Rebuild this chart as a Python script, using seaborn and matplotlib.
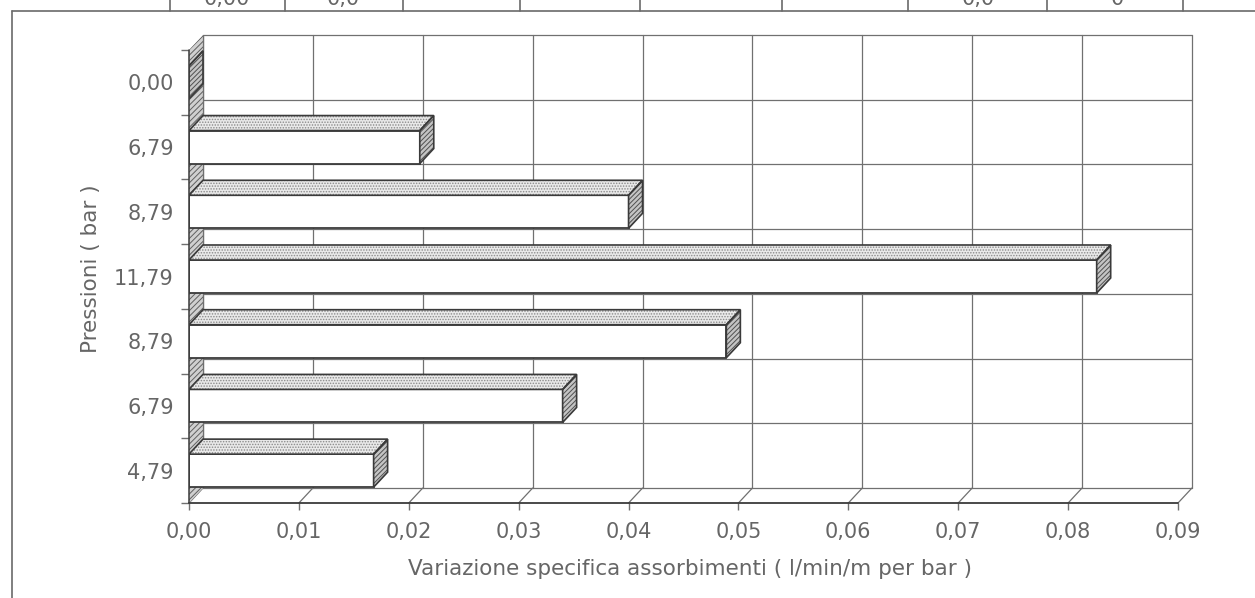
import numpy as np
import pandas as pd
import seaborn as sns
import matplotlib.pyplot as plt
from matplotlib.patches import Polygon
from matplotlib.lines import Line2D
from matplotlib.ticker import FixedLocator

# ---- data -------------------------------------------------------------
pressure_labels = ["0,00", "6,79", "8,79", "11,79", "8,79", "6,79", "4,79"]
variation = [0.0, 0.021, 0.040, 0.0826, 0.0489, 0.034, 0.0168]
x_ticks = [0.00, 0.01, 0.02, 0.03, 0.04, 0.05, 0.06, 0.07, 0.08, 0.09]
x_tick_labels = ["0,00", "0,01", "0,02", "0,03", "0,04", "0,05",
                 "0,06", "0,07", "0,08", "0,09"]
header_cells = ["0,00", "0,0", "0,0", "0"]

# ---- style ------------------------------------------------------------
sns.set_theme(style="white")
plt.rcParams["font.family"] = ["DejaVu Sans"]
plt.rcParams["hatch.linewidth"] = 0.7

INK = "#3a3a3a"
GRID = "#707070"
TXT = "#666666"

W, H = 1255, 598
fig = plt.figure(figsize=(W / 100, H / 100), dpi=100)
fig.patch.set_facecolor("white")
ax = fig.add_axes([189 / W, (H - 503) / H, (1192 - 189) / W, (503 - 35) / H])

XMAX = x_ticks[-1]
DX = XMAX * 14 / 989          # depth of the pseudo-3D box along x
DY = 0.232                    # depth along the category axis
n = len(pressure_labels)
pos = np.arange(n)

df = pd.DataFrame({"pos": pos, "val": variation})
sns.barplot(data=df, x="val", y="pos", orient="h", native_scale=True,
            width=0.51, color="white", saturation=1, edgecolor=INK,
            linewidth=1.3, errorbar=None, ax=ax, zorder=4)

ax.set_xlim(0, XMAX + DX)
ax.set_ylim(n - 0.5, -0.5 - DY)
for s in ax.spines.values():
    s.set_visible(False)

# ---- back wall, floor and left wall -----------------------------------
ybot, ytop = n - 0.5, -0.5
for xv in x_ticks:
    ax.plot([xv + DX, xv + DX], [ybot - DY, ytop - DY], color=GRID, lw=0.9,
            zorder=1, clip_on=False)
    ax.plot([xv, xv + DX], [ybot, ybot - DY], color=GRID, lw=0.9,
            zorder=1, clip_on=False)
for b in np.arange(-0.5, n, 1.0):
    ax.plot([DX, XMAX + DX], [b - DY, b - DY], color=GRID, lw=0.9,
            zorder=1, clip_on=False)
ax.plot([0, XMAX], [ybot, ybot], color=INK, lw=1.3, zorder=5, clip_on=False)

left_wall = Polygon([(0, ybot), (DX, ybot - DY), (DX, ytop - DY), (0, ytop)],
                    closed=True, facecolor="#d0d0d0", edgecolor="#606060",
                    hatch="//////", lw=0, zorder=2)
ax.add_patch(left_wall)
ax.plot([0, 0], [ytop, ybot], color=INK, lw=1.1, zorder=5, clip_on=False)
ax.plot([DX, DX], [ytop - DY, ybot - DY], color=GRID, lw=0.9, zorder=2)

# ---- top and end faces of every bar -----------------------------------
for bar in list(ax.patches):
    if bar is left_wall:
        continue
    x0, y0 = bar.get_x(), bar.get_y()
    w, h = bar.get_width(), bar.get_height()
    yt, yb = y0, y0 + h
    top = [(x0, yt), (x0 + w, yt), (x0 + w + DX, yt - DY), (x0 + DX, yt - DY)]
    end = [(x0 + w, yt), (x0 + w, yb), (x0 + w + DX, yb - DY),
           (x0 + w + DX, yt - DY)]
    ax.add_patch(Polygon(top, closed=True, facecolor="#e9e9e9",
                         edgecolor="#8a8a8a", hatch="......", lw=0, zorder=4))
    ax.add_patch(Polygon(end, closed=True, facecolor="#c4c4c4",
                         edgecolor="#505050", hatch="///////", lw=0, zorder=4))
    for poly in (top, end):
        ax.add_patch(Polygon(poly, closed=True, fill=False, edgecolor=INK,
                             lw=1.2, zorder=4.5))

# ---- ticks and labels --------------------------------------------------
ax.set_xticks(x_ticks, x_tick_labels)
ax.tick_params(axis="x", length=5, width=1, color=GRID, direction="out",
               pad=9, labelsize=15, labelcolor=TXT, bottom=True)
ax.set_yticks(pos, pressure_labels)
ax.yaxis.set_minor_locator(FixedLocator(np.arange(-0.5, n, 1.0)))
ax.tick_params(axis="y", which="major", length=0, pad=11, labelsize=15,
               labelcolor=TXT, left=True)
ax.tick_params(axis="y", which="minor", length=6, width=1, color=GRID,
               direction="out", left=True)

ax.set_xlabel("Variazione specifica assorbimenti ( l/min/m per bar )",
              fontsize=15.5, color=TXT, labelpad=12)
ax.set_ylabel("Pressioni ( bar )", fontsize=15.5, color=TXT, labelpad=9)

# ---- frame and the strip of table above it ----------------------------
frame_kw = dict(transform=fig.transFigure, color="#6a6a6a", lw=1.2)
fig.add_artist(Line2D([12 / W, 1], [1 - 11 / H] * 2, **frame_kw))
fig.add_artist(Line2D([12 / W] * 2, [0, 1 - 11 / H], **frame_kw))
for xc in [170, 285, 403, 520, 640, 782, 908, 1047, 1183]:
    fig.add_artist(Line2D([xc / W] * 2, [1 - 11 / H, 1], **frame_kw))
for xc, txt in zip([227, 343, 978, 1117], header_cells):
    fig.text(xc / W, 1 - 5 / H, txt, ha="center", va="baseline",
             fontsize=15, color=TXT)

fig.savefig("out.png", dpi=100, facecolor="white")
